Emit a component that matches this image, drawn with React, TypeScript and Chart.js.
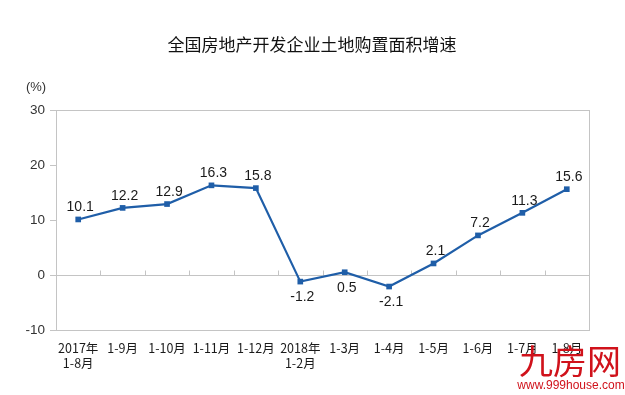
import React, { useEffect, useRef } from "react";
import { Chart, registerables } from "chart.js";

Chart.register(...registerables);

const TITLE = "全国房地产开发企业土地购置面积增速";
const UNIT = "(%)";
const CATEGORIES: (string | string[])[] = [
  ["2017年", "1-8月"],
  "1-9月",
  "1-10月",
  "1-11月",
  "1-12月",
  ["2018年", "1-2月"],
  "1-3月",
  "1-4月",
  "1-5月",
  "1-6月",
  "1-7月",
  "1-8月",
];
const GROWTH = [10.1, 12.2, 12.9, 16.3, 15.8, -1.2, 0.5, -2.1, 2.1, 7.2, 11.3, 15.6];
const LABEL_BELOW = [false, false, false, false, false, true, true, true, false, false, false, false];
const Y_MIN = -10;
const Y_MAX = 30;
const Y_STEP = 10;

const LINE_COLOR = "#1f5ea8";
const FRAME_COLOR = "#c4c4c4";
const NUM_FONT = "'Liberation Sans', Arial, sans-serif";
const CJK_FONT = "'Noto Sans CJK SC', 'Liberation Sans', sans-serif";

const decorPlugin = {
  id: "decor",
  beforeDatasetsDraw(chart: any) {
    const { ctx, chartArea } = chart;
    const x = chart.scales.x;
    const y = chart.scales.y;
    ctx.save();
    ctx.strokeStyle = FRAME_COLOR;
    ctx.lineWidth = 1;
    ctx.strokeRect(
      Math.round(chartArea.left) + 0.5,
      Math.round(chartArea.top) + 0.5,
      Math.round(chartArea.right - chartArea.left),
      Math.round(chartArea.bottom - chartArea.top)
    );
    const y0 = Math.round(y.getPixelForValue(0)) + 0.5;
    ctx.beginPath();
    ctx.moveTo(chartArea.left, y0);
    ctx.lineTo(chartArea.right, y0);
    ctx.stroke();
    const n = CATEGORIES.length;
    for (let i = 1; i < n; i++) {
      const px = Math.round((x.getPixelForValue(i - 1) + x.getPixelForValue(i)) / 2) + 0.5;
      ctx.beginPath();
      ctx.moveTo(px, y0);
      ctx.lineTo(px, y0 - 5);
      ctx.stroke();
    }
    ctx.restore();
  },
  afterDatasetsDraw(chart: any) {
    const { ctx } = chart;
    const meta = chart.getDatasetMeta(0);
    ctx.save();
    ctx.fillStyle = "#1a1a1a";
    ctx.font = "14px " + NUM_FONT;
    ctx.textAlign = "center";
    ctx.textBaseline = "middle";
    meta.data.forEach((pt: any, i: number) => {
      const below = LABEL_BELOW[i];
      ctx.fillText(GROWTH[i].toFixed(1), pt.x + 2, below ? pt.y + 16 : pt.y - 12);
    });
    ctx.restore();
  },
  afterDraw(chart: any) {
    const { ctx } = chart;
    ctx.save();
    ctx.fillStyle = "#111";
    ctx.font = "17px " + CJK_FONT;
    ctx.textAlign = "center";
    ctx.textBaseline = "middle";
    ctx.fillText(TITLE, 312, 45);
    ctx.font = "13px " + NUM_FONT;
    ctx.fillStyle = "#333";
    ctx.fillText(UNIT, 36, 87);
    ctx.fillStyle = "#d0121b";
    ctx.font = "34px " + CJK_FONT;
    ctx.textAlign = "center";
    ctx.fillText("九房网", 570, 361);
    ctx.font = "12px " + NUM_FONT;
    ctx.fillText("www.999house.com", 571, 386);
    ctx.restore();
  },
};

export default function App() {
  const ref = useRef<HTMLCanvasElement | null>(null);
  useEffect(() => {
    document.body.style.margin = "0";
    const canvas = ref.current;
    if (!canvas) return;
    const chart = new Chart(canvas, {
      type: "line",
      data: {
        labels: CATEGORIES,
        datasets: [
          {
            data: GROWTH,
            borderColor: LINE_COLOR,
            backgroundColor: LINE_COLOR,
            borderWidth: 2.2,
            pointStyle: "rect",
            pointRadius: 4,
            pointBorderWidth: 0,
            pointBackgroundColor: LINE_COLOR,
            tension: 0,
          },
        ],
      },
      options: {
        responsive: false,
        animation: false,
        layout: { padding: { top: 110, right: 36, left: 0, bottom: 0 } },
        plugins: {
          legend: { display: false },
          title: { display: false },
          tooltip: { enabled: false },
        },
        scales: {
          x: {
            type: "category",
            offset: true,
            grid: { display: false, drawTicks: false },
            border: { display: false },
            ticks: {
              color: "#1a1a1a",
              font: { size: 12.5, family: CJK_FONT, lineHeight: 1.25 },
              padding: 10,
              maxRotation: 0,
              autoSkip: false,
            },
            afterFit(scale: any) {
              scale.height = 65;
            },
          },
          y: {
            min: Y_MIN,
            max: Y_MAX,
            ticks: {
              stepSize: Y_STEP,
              color: "#333",
              font: { size: 13.5, family: NUM_FONT },
              padding: 5,
            },
            grid: {
              drawOnChartArea: false,
              drawTicks: true,
              tickLength: 6,
              color: FRAME_COLOR,
            },
            border: { display: false },
            afterFit(scale: any) {
              scale.width = 56;
            },
          },
        },
      },
      plugins: [decorPlugin],
    } as any);
    return () => chart.destroy();
  }, []);
  return <canvas ref={ref} width={625} height={395} style={{ display: "block" }} />;
}
